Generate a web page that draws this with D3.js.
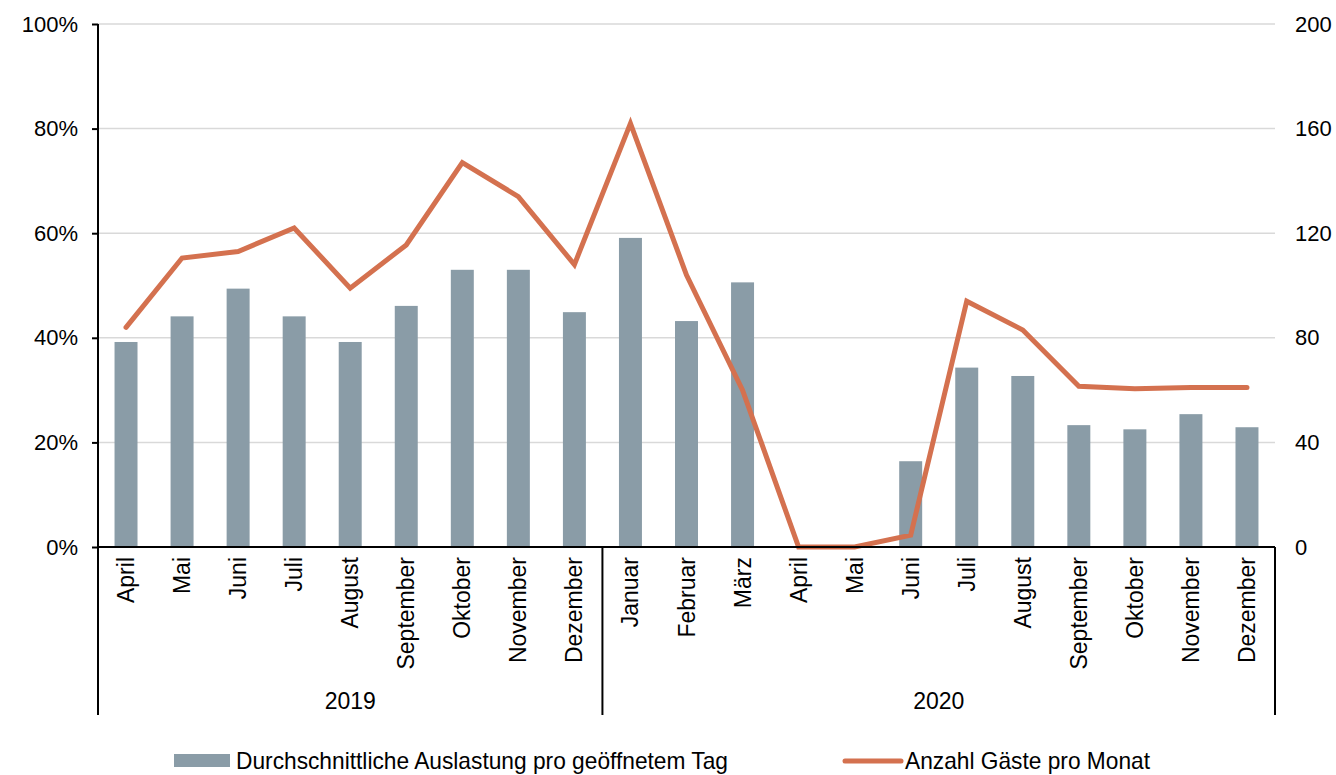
<!DOCTYPE html>
<html>
<head>
<meta charset="utf-8">
<script src="https://cdn.jsdelivr.net/npm/d3@7"></script>
<style>
  body { margin: 0; background: #fff; }
  text { font-family: "Liberation Sans", Arial, sans-serif; fill: #000; }
</style>
</head>
<body>
<div id="graph"></div>
<script>
const months = ['April', 'Mai', 'Juni', 'Juli', 'August', 'September', 'Oktober', 'November', 'Dezember',
  'Januar', 'Februar', 'März', 'April', 'Mai', 'Juni', 'Juli', 'August', 'September', 'Oktober', 'November', 'Dezember'];
const years = ['2019', '2020'];
const yearMonthCount = [9, 12];
// Durchschnittliche Auslastung in %
const occupancy = [39.2, 44.1, 49.4, 44.1, 39.2, 46.1, 53.0, 53.0, 44.9,
  59.1, 43.2, 50.6, 0, 0, 16.4, 34.3, 32.7, 23.3, 22.5, 25.4, 22.9];
// Anzahl Gäste
const guests = [84, 110.5, 113, 122, 99, 115.5, 147, 134, 108,
  162, 104, 60, 0, 0, 4.5, 94, 83, 61.5, 60.5, 61, 61];
const leftTicks = [0, 20, 40, 60, 80, 100];
const rightTicks = [0, 40, 80, 120, 160, 200];
const legendLabels = ['Durchschnittliche Auslastung pro geöffnetem Tag', 'Anzahl Gäste pro Monat'];

const width = 1336, height = 775;
const plotLeft = 98, plotRight = 1275, plotTop = 24, plotBottom = 547, boxBottom = 715;
const barColor = '#8a9ca7', lineColor = '#d4714f';

const svg = d3.select('#graph').html('')
  .append('svg')
  .attr('width', width)
  .attr('height', height);

const idx = months.map((d, i) => i);

const xScale = d3.scaleBand()
  .domain(idx)
  .range([plotLeft, plotRight])
  .paddingInner(0.59)
  .paddingOuter(0.295);

const yLeft = d3.scaleLinear().domain([0, 100]).range([plotBottom, plotTop]);
const yRight = d3.scaleLinear().domain([0, 200]).range([plotBottom, plotTop]);

// gridlines
svg.append('g')
  .selectAll('line')
  .data(leftTicks.slice(1))
  .enter().append('line')
  .attr('x1', plotLeft).attr('x2', plotRight)
  .attr('y1', d => yLeft(d)).attr('y2', d => yLeft(d))
  .attr('stroke', '#d9d9d9')
  .attr('stroke-width', 1.5);

// bars
svg.selectAll('.bar')
  .data(occupancy)
  .enter().append('rect')
  .classed('bar', true)
  .attr('x', (d, i) => xScale(i))
  .attr('y', d => yLeft(d))
  .attr('width', xScale.bandwidth())
  .attr('height', d => plotBottom - yLeft(d))
  .attr('fill', barColor);

// line
const step = xScale.step();
const cx = i => xScale(i) + xScale.bandwidth() / 2;
svg.append('path')
  .datum(guests)
  .attr('fill', 'none')
  .attr('stroke', lineColor)
  .attr('stroke-width', 5)
  .attr('stroke-linejoin', 'miter')
  .attr('stroke-linecap', 'round')
  .attr('d', d3.line().x((d, i) => cx(i)).y(d => yRight(d)));

// left axis
const axisL = svg.append('g')
  .attr('transform', `translate(${plotLeft},0)`)
  .call(d3.axisLeft(yLeft).tickValues(leftTicks).tickFormat(d => d + '%').tickSize(6).tickPadding(14));
axisL.select('.domain').remove();
axisL.selectAll('line').attr('stroke', '#000').attr('stroke-width', 2);
axisL.selectAll('text').style('font-size', '22px').attr('font-family', 'Liberation Sans, Arial, sans-serif');
svg.append('line')
  .attr('x1', plotLeft).attr('x2', plotLeft).attr('y1', plotTop).attr('y2', boxBottom)
  .attr('stroke', '#000').attr('stroke-width', 2);

// right axis
const axisR = svg.append('g')
  .attr('transform', `translate(${plotRight},0)`)
  .call(d3.axisRight(yRight).tickValues(rightTicks).tickSize(0).tickPadding(20));
axisR.select('.domain').remove();
axisR.selectAll('text').style('font-size', '22px').attr('font-family', 'Liberation Sans, Arial, sans-serif');

// baseline
svg.append('line')
  .attr('x1', plotLeft).attr('x2', plotRight).attr('y1', plotBottom).attr('y2', plotBottom)
  .attr('stroke', '#000').attr('stroke-width', 2);

// month labels
svg.append('g')
  .selectAll('text')
  .data(months)
  .enter().append('text')
  .attr('transform', (d, i) => `translate(${cx(i) + 8},${plotBottom + 10}) rotate(-90)`)
  .attr('text-anchor', 'end')
  .style('font-size', '23px')
  .text(d => d);

// year groups: boundaries between categories
const boundaries = [plotLeft];
let acc = 0;
yearMonthCount.forEach(n => { acc += n; boundaries.push(plotLeft + step * acc); });
svg.append('g')
  .selectAll('line')
  .data(boundaries)
  .enter().append('line')
  .attr('x1', d => d).attr('x2', d => d)
  .attr('y1', plotBottom).attr('y2', boxBottom)
  .attr('stroke', '#000').attr('stroke-width', 2);

svg.append('g')
  .selectAll('text')
  .data(years)
  .enter().append('text')
  .attr('x', (d, k) => (boundaries[k] + boundaries[k + 1]) / 2)
  .attr('y', 709)
  .attr('text-anchor', 'middle')
  .style('font-size', '23px')
  .text(d => d);

// legend
svg.append('rect')
  .attr('x', 174).attr('y', 754).attr('width', 56).attr('height', 13)
  .attr('fill', barColor);
svg.append('text')
  .attr('x', 236).attr('y', 769)
  .style('font-size', '24px')
  .attr('textLength', 492).attr('lengthAdjust', 'spacingAndGlyphs')
  .text(legendLabels[0]);
svg.append('line')
  .attr('x1', 845).attr('x2', 901).attr('y1', 761).attr('y2', 761)
  .attr('stroke', lineColor).attr('stroke-width', 5).attr('stroke-linecap', 'round');
svg.append('text')
  .attr('x', 905).attr('y', 769)
  .style('font-size', '24px')
  .attr('textLength', 245).attr('lengthAdjust', 'spacingAndGlyphs')
  .text(legendLabels[1]);
</script>
</body>
</html>
